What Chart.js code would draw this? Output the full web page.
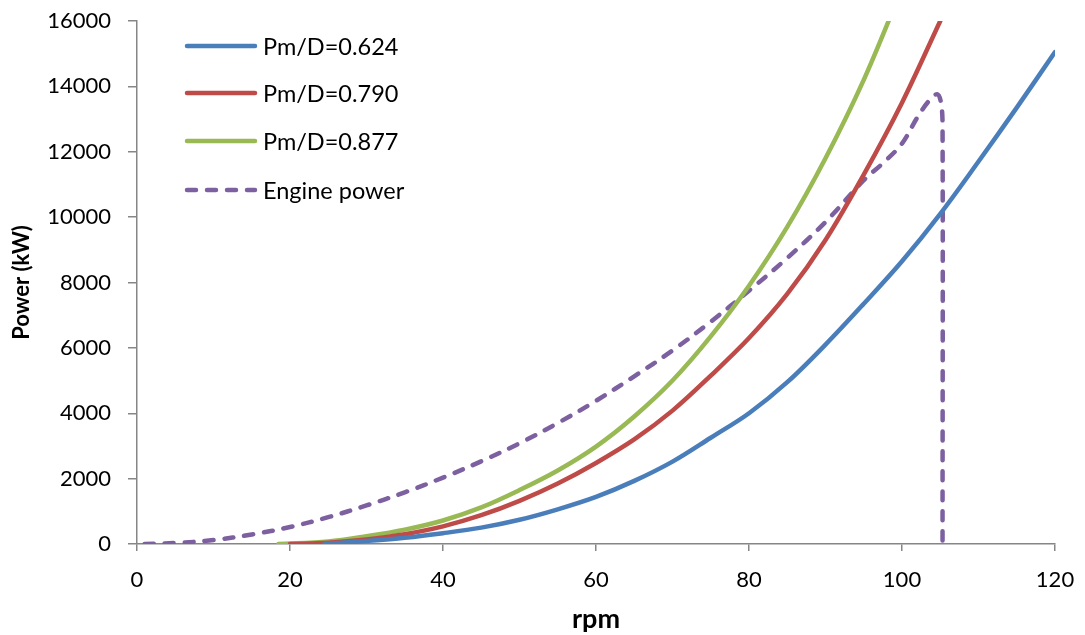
<!DOCTYPE html>
<html>
<head>
<meta charset="utf-8">
<script src="https://cdn.jsdelivr.net/npm/chart.js@4"></script>
<style>
  body { margin: 0; background: #fff; }
</style>
</head>
<body>
<canvas id="myChart" width="1085" height="635"></canvas>
<script>
// data (rpm, kW)
var seriesNames = ["Pm/D=0.624", "Pm/D=0.790", "Pm/D=0.877", "Engine power"];

var rpm624 = [24.5, 30, 35, 40, 45, 50, 55, 60, 65, 70, 75, 80, 85, 90, 95, 100, 105, 110, 115, 120];
var pow624 = [0, 90, 190, 330, 500, 740, 1060, 1440, 1930, 2520, 3250, 4000, 4950, 6100, 7350, 8650, 10100, 11700, 13350, 15050];

var rpm790 = [20, 25, 30, 35, 40, 45, 50, 55, 60, 65, 70, 75, 80, 85, 90, 95, 100, 105];
var pow790 = [0, 40, 140, 300, 540, 880, 1320, 1850, 2480, 3200, 4080, 5150, 6300, 7650, 9300, 11300, 13500, 16000];

var rpm877 = [18.5, 25, 30, 35, 40, 45, 50, 55, 60, 65, 70, 75, 80, 85, 90, 95, 100];
var pow877 = [0, 80, 240, 440, 720, 1120, 1650, 2250, 2980, 3900, 5000, 6350, 7900, 9700, 11800, 14200, 17000];

var rpmEngine = [1, 5, 10, 15, 20, 25, 30, 35, 40, 45, 50, 55, 60, 65, 70, 75, 80, 85, 90, 95, 97.5, 100, 102, 103.5, 104.6, 105.1, 105.3, 105.3];
var powEngine = [0, 30, 120, 290, 520, 820, 1180, 1580, 2030, 2530, 3080, 3700, 4380, 5130, 5920, 6800, 7750, 8750, 9850, 11130, 11650, 12250, 13050, 13550, 13760, 13500, 12800, 0];

var xTicks = [0, 20, 40, 60, 80, 100, 120];
var yTicks = [0, 2000, 4000, 6000, 8000, 10000, 12000, 14000, 16000];

function pts(xs, ys) {
  return xs.map(function (x, i) { return { x: x, y: ys[i] }; });
}

var axisGrey = "#868686";
var font = "Lato, 'Noto Sans', sans-serif";

// legend drawn inside the plot, top-left, like the Excel original
var insideLegend = {
  id: "insideLegend",
  afterDraw: function (chart) {
    var ctx = chart.ctx;
    var rows = [46, 93, 141, 190];
    chart.data.datasets.forEach(function (ds, i) {
      ctx.save();
      ctx.strokeStyle = ds.borderColor;
      ctx.lineWidth = 4.5;
      ctx.lineCap = "round";
      ctx.setLineDash(ds.borderDash || []);
      ctx.beginPath();
      ctx.moveTo(187, rows[i]);
      ctx.lineTo(255, rows[i]);
      ctx.stroke();
      ctx.setLineDash([]);
      ctx.fillStyle = "#000";
      ctx.font = "23.5px " + font;
      ctx.textBaseline = "middle";
      ctx.fillText(ds.label, 263, rows[i] + 1);
      ctx.restore();
    });
  }
};

function lineSet(label, data, color, dash) {
  return {
    label: label,
    data: data,
    borderColor: color,
    backgroundColor: color,
    borderWidth: 4.5,
    borderDash: dash || [],
    borderCapStyle: "round",
    borderJoinStyle: "round",
    pointRadius: 0,
    tension: 0.35,
    fill: false
  };
}

new Chart("myChart", {
  type: "scatter",
  data: {
    datasets: [
      lineSet(seriesNames[0], pts(rpm624, pow624), "#4A7EBB"),
      lineSet(seriesNames[1], pts(rpm790, pow790), "#BE4B48"),
      lineSet(seriesNames[2], pts(rpm877, pow877), "#98B954"),
      lineSet(seriesNames[3], pts(rpmEngine, powEngine), "#7D60A0", [9, 11])
    ]
  },
  options: {
    responsive: false,
    animation: false,
    showLine: true,
    layout: { padding: { top: 21, right: 30, left: 0, bottom: 0 } },
    plugins: {
      legend: { display: false },
      tooltip: { enabled: false }
    },
    scales: {
      x: {
        type: "linear",
        min: 0,
        max: 120,
        afterBuildTicks: function (s) { s.ticks = xTicks.map(function (v) { return { value: v }; }); },
        afterFit: function (s) { s.height = 91; s.paddingLeft = 0; s.paddingRight = 0; },
        border: { color: axisGrey, width: 1.5 },
        grid: { drawOnChartArea: false, color: axisGrey, tickLength: 7, lineWidth: 1.5 },
        ticks: { color: "#000", font: { family: font, size: 22 }, padding: 16, maxRotation: 0,
                 callback: function (v) { return String(v); } },
        title: { display: true, text: "rpm", color: "#000", font: { family: font, size: 27, weight: "bold" }, padding: 0 }
      },
      y: {
        min: 0,
        max: 16000,
        afterBuildTicks: function (s) { s.ticks = yTicks.map(function (v) { return { value: v }; }); },
        afterFit: function (s) { s.width = 137; s.paddingTop = 0; s.paddingBottom = 0; },
        border: { color: axisGrey, width: 1.5 },
        grid: { drawOnChartArea: false, color: axisGrey, tickLength: 9, lineWidth: 1.5 },
        ticks: { color: "#000", font: { family: font, size: 22 }, padding: 17,
                 callback: function (v) { return String(v); } },
        title: { display: true, text: "Power (kW)", color: "#000", font: { family: font, size: 22, weight: "bold" }, padding: { top: 9, bottom: 0 } }
      }
    }
  },
  plugins: [insideLegend]
});
</script>
</body>
</html>
